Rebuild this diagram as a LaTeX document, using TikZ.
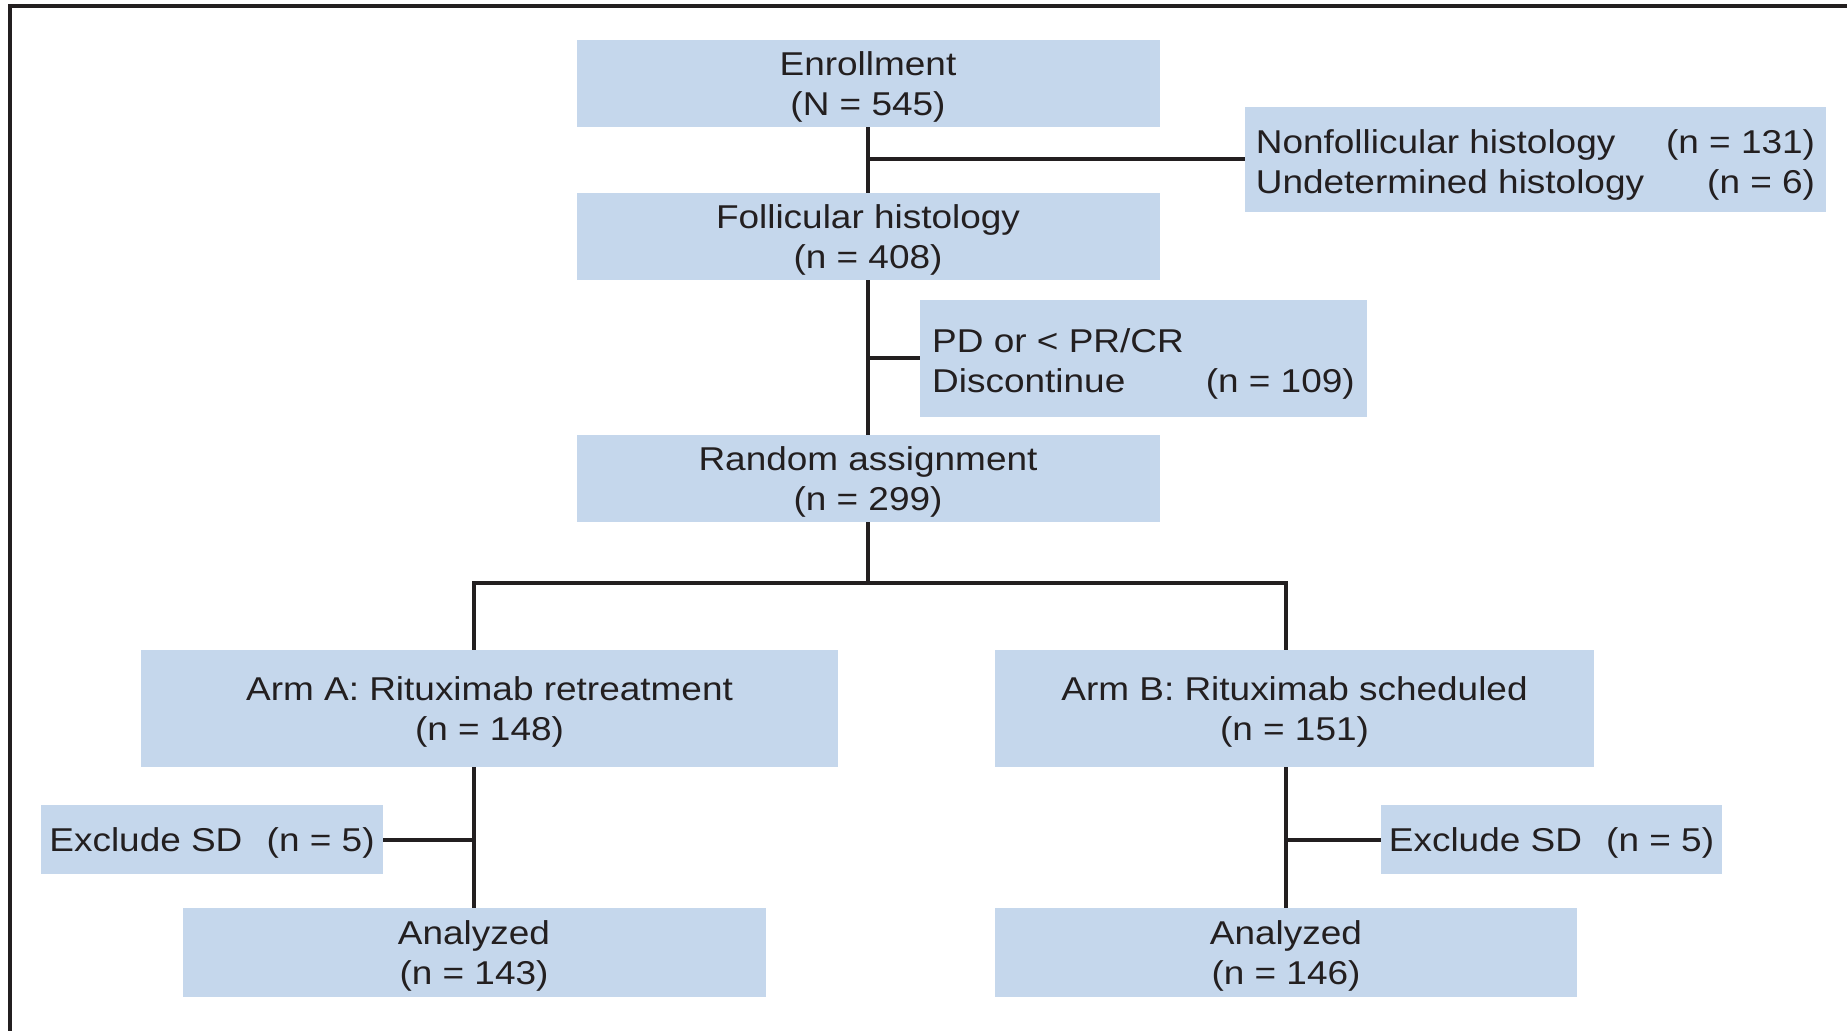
\documentclass[tikz,border=0pt]{standalone}
\usepackage{fontspec}
\setmainfont{Liberation Sans}[FakeStretch=1.12]
\usetikzlibrary{positioning}
\definecolor{boxblue}{RGB}{197,215,236}
\definecolor{inkgray}{RGB}{35,31,32}
\renewcommand{\arraystretch}{1}

\tikzset{
  stage/.style={fill=boxblue, text=inkgray, align=center, inner sep=0pt, text depth=0pt,
                font=\fontsize{16.5}{20}\selectfont},
  link/.style={draw=inkgray, line width=2pt},
}

\begin{document}
\begin{tikzpicture}[x=0.5pt,y=-0.5pt]
    \useasboundingbox (0,0) rectangle (1847,1031);
    \draw[inkgray, line width=1.6pt] (10,1031) -- (10,6) -- (1847,6); % frame

    \node[stage, minimum width=291.5pt, minimum height=43.5pt] (enroll) at (868,83.5)  {Enrollment\\(N = 545)};
    \node[stage, minimum width=290.5pt, minimum height=52.5pt] (nonfol) at (1535.5,159.5)
      {\begin{tabular}[b]{@{}l@{\hspace{11pt}}r@{}}Nonfollicular histology & (n = 131)\\ Undetermined histology & (n = 6)\end{tabular}};
    \node[stage, minimum width=291.5pt, minimum height=43.5pt] (follic) at (868,236.5) {Follicular histology\\(n = 408)};
    \node[stage, minimum width=223.5pt, minimum height=58.5pt] (pd)     at (1143.5,358.5)
      {\begin{tabular}[b]{@{}l@{\hspace{11pt}}r@{}}PD or < PR/CR & \\ Discontinue & (n = 109)\end{tabular}};
    \node[stage, minimum width=291.5pt, minimum height=43.5pt] (random) at (868,478.5) {Random assignment\\(n = 299)};

    \node[stage, minimum width=348.5pt, minimum height=58.5pt] (armA) at (489.5,708.5)  {Arm A: Rituximab retreatment\\(n = 148)};
    \node[stage, minimum width=299.5pt, minimum height=58.5pt] (armB) at (1294.5,708.5) {Arm B: Rituximab scheduled\\(n = 151)};
    \node[stage, minimum width=171pt,   minimum height=34.5pt] (exclA) at (212,839.5)   {Exclude SD\hspace{7pt} (n = 5)};
    \node[stage, minimum width=170.5pt, minimum height=34.5pt] (exclB) at (1551.5,839.5) {Exclude SD\hspace{7pt} (n = 5)};
    \node[stage, minimum width=291.5pt, minimum height=44.5pt] (anaA) at (474,952.5)    {Analyzed\\(n = 143)};
    \node[stage, minimum width=291pt,   minimum height=44.5pt] (anaB) at (1286,952.5)   {Analyzed\\(n = 146)};

    \coordinate (split) at (868,583);

    \draw[link] (enroll) -- (follic);
    \draw[link] (follic) -- (random);
    \draw[link] (enroll.south |- nonfol.west) -- (nonfol.west); % excluded histology
    \draw[link] (follic.south |- pd.west) -- (pd.west);         % no response
    \draw[link] (random) -- (split);
    \draw[link] (armA.north -| anaA.north) |- (split) -| (armB.north -| anaB.north);
    \draw[link] (armA.south -| anaA.north) -- (anaA);
    \draw[link] (armB.south -| anaB.north) -- (anaB);
    \draw[link] (exclA) -- (exclA -| anaA.north);
    \draw[link] (exclB) -- (exclB -| anaB.north);
\end{tikzpicture}
\end{document}
